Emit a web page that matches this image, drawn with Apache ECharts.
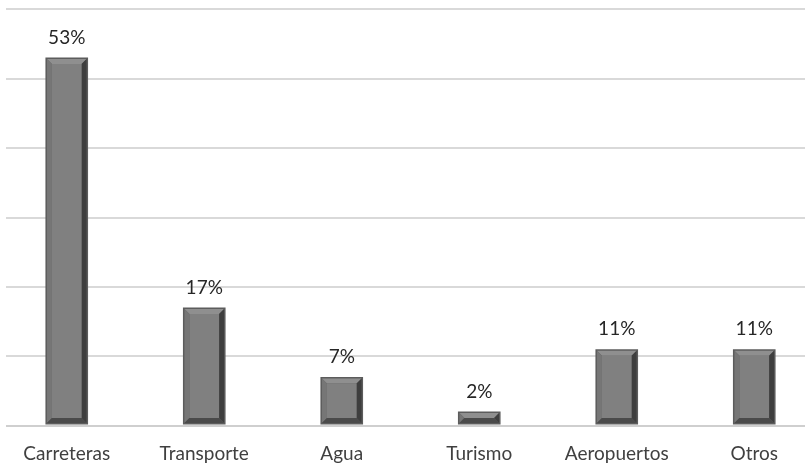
<!DOCTYPE html>
<html>
<head>
<meta charset="utf-8">
<script src="https://cdn.jsdelivr.net/npm/echarts@6/dist/echarts.min.js"></script>
<style>
  html, body { margin: 0; padding: 0; background: #ffffff; }
  #chart { width: 805px; height: 463px; }
</style>
</head>
<body>
<div id="chart"></div>
<script>
// Investment share by sector (percent)
const categories = ['Carreteras', 'Transporte', 'Agua', 'Turismo', 'Aeropuertos', 'Otros'];
const shares = [53, 17, 7, 2, 11, 11];
const yTicks = [0, 10, 20, 30, 40, 50, 60];

const FONT = 'Lato, "Open Sans", sans-serif';

// Bevelled bar: dark outer frame, light top/left bevel, dark right/bottom bevel, flat face
function renderBevelBar(params, api) {
  const x = api.value(0);
  const v = api.value(1);
  const top = api.coord([x, v]);
  const base = api.coord([x, 0]);
  const band = api.size([1, 0])[0];
  const w = band * 0.31;
  const x0 = top[0] - w / 2;
  const x1 = top[0] + w / 2;
  const y0 = top[1];
  const y1 = base[1] - 1;
  const h = y1 - y0;
  const f = 1.5;                     // outer frame
  const b = Math.min(5, Math.max(1, (h - 2 * f) / 2)); // bevel
  const ix0 = x0 + f, ix1 = x1 - f, iy0 = y0 + f, iy1 = y1 - f;
  const fx0 = ix0 + b, fx1 = ix1 - b, fy0 = iy0 + b, fy1 = iy1 - b;
  const children = [
    { type: 'rect', shape: { x: x0, y: y0, width: w, height: h }, style: { fill: '#5c5c5c' } },
    { type: 'polygon', shape: { points: [[ix0, iy0], [ix1, iy0], [fx1, fy0], [fx0, fy0]] }, style: { fill: '#8f8f8f' } },
    { type: 'polygon', shape: { points: [[ix0, iy0], [fx0, fy0], [fx0, fy1], [ix0, iy1]] }, style: { fill: '#767676' } },
    { type: 'polygon', shape: { points: [[ix1, iy0], [ix1, iy1], [fx1, fy1], [fx1, fy0]] }, style: { fill: '#3e3e3e' } },
    { type: 'polygon', shape: { points: [[ix0, iy1], [fx0, fy1], [fx1, fy1], [ix1, iy1]] }, style: { fill: '#4a4a4a' } },
    { type: 'rect', shape: { x: fx0, y: fy0, width: Math.max(0, fx1 - fx0), height: Math.max(0, fy1 - fy0) }, style: { fill: '#808080' } },
    { type: 'text', style: { text: v + '%', x: top[0], y: y0 - 20, align: 'center', verticalAlign: 'middle', fill: '#262626', font: '19px ' + FONT } }
  ];
  return { type: 'group', children: children };
}

const chart = echarts.init(document.getElementById('chart'), null, { renderer: 'canvas' });
chart.setOption({
  backgroundColor: '#ffffff',
  animation: false,
  grid: { left: -2, top: 9, width: 825, height: 416.5, containLabel: false, outerBoundsMode: 'none' },
  xAxis: {
    type: 'category',
    data: categories,
    axisTick: { show: false },
    axisLine: { show: true, lineStyle: { color: '#cfcfcf', width: 2 } },
    axisLabel: { color: '#404040', fontSize: 19, fontFamily: FONT, margin: 19 }
  },
  yAxis: {
    type: 'value',
    min: yTicks[0],
    max: yTicks[yTicks.length - 1],
    interval: 10,
    axisLabel: { show: false },
    axisLine: { show: false },
    axisTick: { show: false },
    splitLine: { lineStyle: { color: '#d9d9d9', width: 2 } }
  },
  series: [{
    type: 'custom',
    renderItem: renderBevelBar,
    encode: { x: 0, y: 1 },
    data: shares.map((v, i) => [i, v])
  }],
  graphic: [{
    type: 'rect', left: 0, top: 0, z: 100,
    shape: { x: 0, y: 0, width: 6, height: 430 },
    style: { fill: '#ffffff' }
  }]
});
</script>
</body>
</html>
